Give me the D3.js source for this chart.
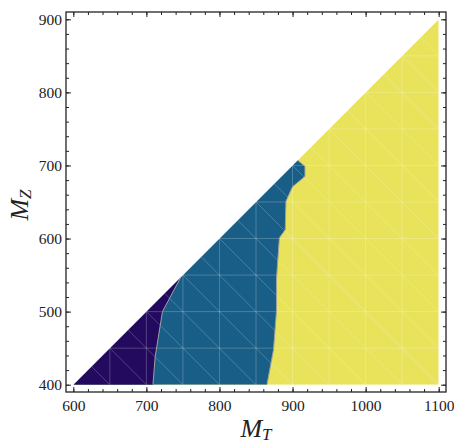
<!DOCTYPE html>
<html>
<head>
<meta charset="utf-8">
<script src="https://cdn.jsdelivr.net/npm/d3@7"></script>
<style>
  body { margin: 0; background: #fff; }
  .tick text { font-family: "Liberation Serif", "DejaVu Serif", serif; font-size: 15.5px; fill: #222; }
  .axis-title { font-family: "Liberation Serif", serif; font-style: italic; fill: #222; }
</style>
</head>
<body>
<div id="chart"></div>
<script>
// region boundaries (data units)
var purpleBlueX = [709, 712, 722, 747];
var purpleBlueY = [400, 438, 500, 547];
var blueYellowX = [865, 874, 878, 878, 882, 890, 891, 900, 917, 917, 907];
var blueYellowY = [400, 448, 500, 544, 601, 612, 651, 671, 685, 699, 707];

var xTicks = [600, 700, 800, 900, 1000, 1100];
var yTicks = [400, 500, 600, 700, 800, 900];
var meshStep = 50;

var colPurple = "#230a5e", colBlue = "#195e86", colYellow = "#e8e35a";

var margin = { top: 12, right: 8, bottom: 54, left: 66 };
// frame is 380 x 380

var svg = d3.select("#chart").append("svg")
    .attr("width", 454)
    .attr("height", 446)
    .append("g")
    .attr("transform", "translate(" + margin.left + "," + margin.top + ")");

var x = d3.scaleLinear().domain([590, 1110]).range([0, 380]);
var y = d3.scaleLinear().domain([390, 910]).range([380, 0]);

var line = d3.line().x(function(d) { return x(d[0]); }).y(function(d) { return y(d[1]); });

var tri = [[600, 400], [1100, 400], [1100, 900]];

svg.append("clipPath").attr("id", "tri")
    .append("path").attr("d", line(tri) + "Z");

var bY = blueYellowX.map(function(v, i) { return [v, blueYellowY[i]]; });
var pB = purpleBlueX.map(function(v, i) { return [v, purpleBlueY[i]]; });

var plot = svg.append("g").attr("clip-path", "url(#tri)");

plot.append("path").attr("d", line(tri) + "Z").attr("fill", colYellow);
plot.append("path").attr("d", line([[600, 400]].concat(bY)) + "Z").attr("fill", colBlue);
plot.append("path").attr("d", line([[600, 400]].concat(pB)) + "Z").attr("fill", colPurple);

// mesh lines
var mesh = plot.append("g")
    .attr("stroke", "#fff")
    .attr("stroke-opacity", 0.28)
    .attr("stroke-width", 0.8);
d3.range(650, 1100, meshStep).forEach(function(v) {
    mesh.append("line").attr("x1", x(v)).attr("x2", x(v)).attr("y1", y(400)).attr("y2", y(900));
});
d3.range(450, 900, meshStep).forEach(function(v) {
    mesh.append("line").attr("x1", x(600)).attr("x2", x(1100)).attr("y1", y(v)).attr("y2", y(v));
});
d3.range(1050, 2000, meshStep).forEach(function(c) {
    mesh.append("line").attr("x1", x(c - 900)).attr("y1", y(900))
        .attr("x2", x(c - 400)).attr("y2", y(400));
});

// boundary curves
plot.append("path").attr("d", line(bY)).attr("fill", "none").attr("stroke", "#a0a0a0").attr("stroke-width", 1);
plot.append("path").attr("d", line(pB)).attr("fill", "none").attr("stroke", "#a0a0a0").attr("stroke-width", 1);

// frame ticks, all pointing inward
var minorX = d3.range(600, 1101, 20), minorY = d3.range(400, 901, 20);

function ticksOn(axisFn, scale, major, minor, tr) {
    var g = svg.append("g").attr("transform", tr || null);
    g.append("g").call(axisFn(scale).tickValues(minor).tickSize(3).tickFormat(""));
    g.append("g").call(axisFn(scale).tickValues(major).tickSize(5).tickFormat(""));
    g.selectAll(".domain").remove();
    g.selectAll(".tick line").attr("stroke", "#222");
}
ticksOn(d3.axisTop, x, xTicks, minorX, "translate(0,380)");
ticksOn(d3.axisBottom, x, xTicks, minorX);
ticksOn(d3.axisRight, y, yTicks, minorY);
ticksOn(d3.axisLeft, y, yTicks, minorY, "translate(380,0)");

// tick labels
svg.append("g").attr("transform", "translate(0,380)")
    .call(d3.axisBottom(x).tickValues(xTicks).tickSize(0).tickPadding(8).tickFormat(d3.format("d")))
    .select(".domain").remove();
svg.append("g")
    .call(d3.axisLeft(y).tickValues(yTicks).tickSize(0).tickPadding(4).tickFormat(d3.format("d")))
    .select(".domain").remove();

svg.append("rect").attr("width", 380).attr("height", 380)
    .attr("fill", "none").attr("stroke", "#222").attr("stroke-width", 1.3);

// axis titles
var xt = svg.append("text").attr("class", "axis-title")
    .attr("x", 190).attr("y", 425).attr("text-anchor", "middle");
xt.append("tspan").style("font-size", "26px").text("M");
xt.append("tspan").style("font-size", "17px").attr("dy", 3).text("T");

var yt = svg.append("text").attr("class", "axis-title")
    .attr("transform", "translate(-38," + 193 + ") rotate(-90)")
    .attr("text-anchor", "middle");
yt.append("tspan").style("font-size", "26px").text("M");
yt.append("tspan").style("font-size", "17px").attr("dy", 3).text("Z");
</script>
</body>
</html>
